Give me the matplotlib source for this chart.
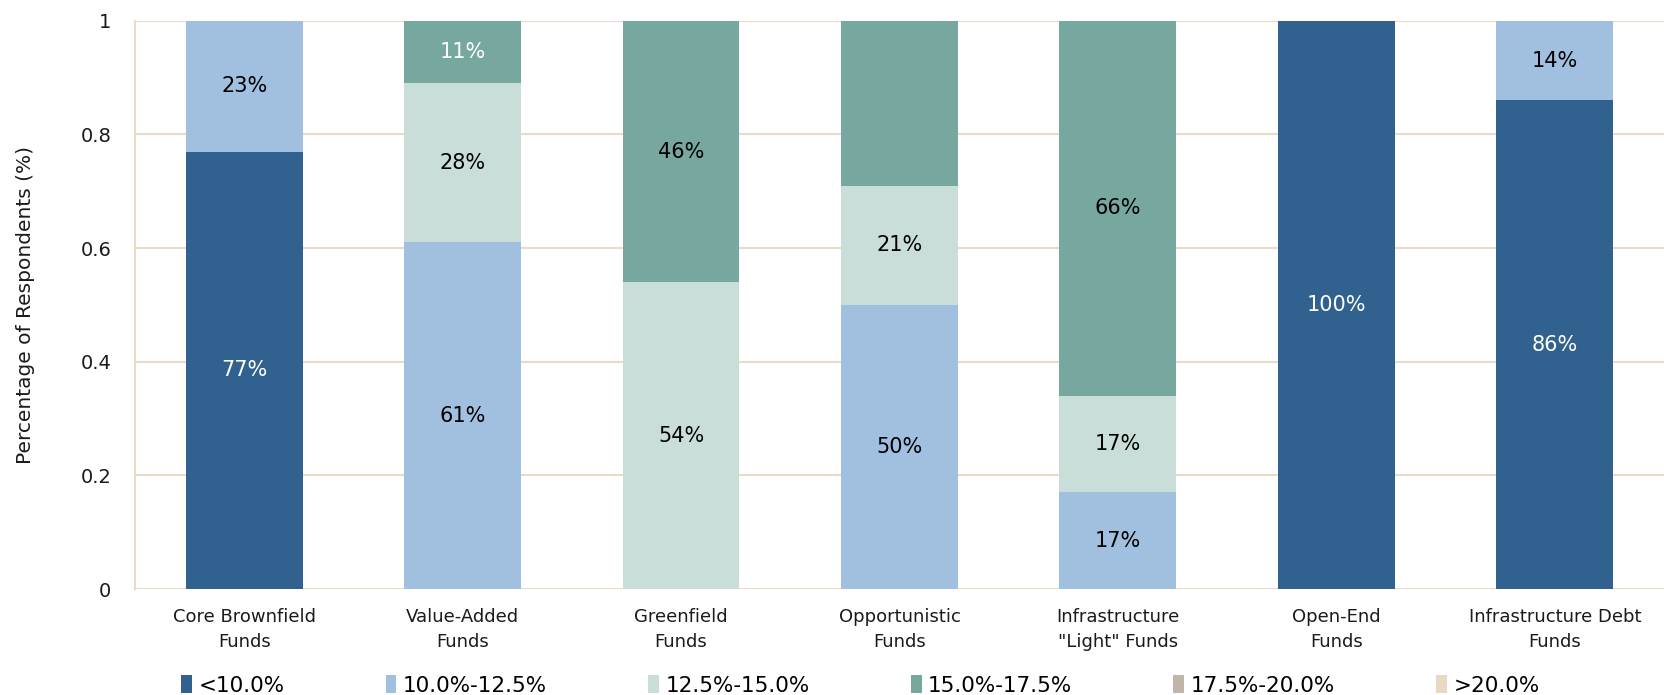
import matplotlib.pyplot as plt
import numpy as np
from matplotlib.ticker import FuncFormatter

# Data
categories = ['Core Brownfield\nFunds', 'Value-Added\nFunds', 'Greenfield\nFunds',
              'Opportunistic\nFunds', 'Infrastructure\n"Light" Funds', 'Open-End\nFunds',
              'Infrastructure Debt\nFunds']
series_names = ['<10.0%', '10.0%-12.5%', '12.5%-15.0%', '15.0%-17.5%', '17.5%-20.0%', '>20.0%']

lt10 = [0.77, 0.00, 0.00, 0.00, 0.00, 1.00, 0.86]
r10_125 = [0.23, 0.61, 0.00, 0.50, 0.17, 0.00, 0.14]
r125_15 = [0.00, 0.28, 0.54, 0.21, 0.17, 0.00, 0.00]
r15_175 = [0.00, 0.11, 0.46, 0.29, 0.66, 0.00, 0.00]
r175_20 = [0.00, 0.00, 0.00, 0.00, 0.00, 0.00, 0.00]
gt20 = [0.00, 0.00, 0.00, 0.00, 0.00, 0.00, 0.00]
series = [lt10, r10_125, r125_15, r15_175, r175_20, gt20]

# which segments carry a label (opportunistic top segment is unlabeled in the source)
show_label = [
    [True] * 7,
    [True] * 7,
    [True] * 7,
    [True, True, True, False, True, True, True],
    [True] * 7,
    [True] * 7,
]

# colors
COLORS = ['#31628F', '#A1BFDE', '#C9DED8', '#77A8A0', '#C0B5A8', '#E9D9C2']
LABEL_COLORS = ['white', 'black', 'black', 'black', 'black', 'black']
GRID_COLOR = '#E8DCC8'

plt.rcParams['font.family'] = ['DejaVu Sans']

fig = plt.figure(figsize=(16.64, 6.95), dpi=100)
ax = fig.add_axes([0.0811, 0.1525, 0.9189, 0.8175])

x = np.arange(len(categories))
bottom = np.zeros(len(categories))
for i, (name, vals) in enumerate(zip(series_names, series)):
    vals = np.array(vals)
    ax.bar(x, vals, width=0.535, bottom=bottom, color=COLORS[i], label=name,
           edgecolor='none', zorder=3)
    for j, v in enumerate(vals):
        if v > 0 and show_label[i][j]:
            c = LABEL_COLORS[i]
            if i == 3 and j == 1:
                c = 'white'
            ax.text(x[j], bottom[j] + v / 2, f'{v * 100:.0f}%', ha='center', va='center',
                    fontsize=15, color=c, zorder=4)
    bottom += vals

ax.set_xlim(-0.5, 6.5)
ax.set_ylim(0, 1)
ax.set_yticks([0, 0.2, 0.4, 0.6, 0.8, 1.0])
ax.yaxis.set_major_formatter(FuncFormatter(lambda v, p: f'{v:g}'))
ax.set_xticks(x)
ax.set_xticklabels(categories, fontsize=13, color='#1a1a1a', linespacing=1.5)
ax.tick_params(axis='y', labelsize=14, colors='#1a1a1a', length=0, pad=17)
ax.tick_params(axis='x', length=0, pad=14)
ax.set_ylabel('Percentage of Respondents (%)', fontsize=14.5, color='#1a1a1a', labelpad=33)

ax.grid(axis='y', color=GRID_COLOR, linewidth=1.5, zorder=0)
for s in ['top', 'right', 'bottom']:
    ax.spines[s].set_visible(False)
ax.spines['left'].set_color(GRID_COLOR)
ax.spines['left'].set_linewidth(1.5)

leg = fig.legend(loc='lower center', bbox_to_anchor=(0.517, -0.029), ncol=6, frameon=False,
                 fontsize=15.5, handlelength=0.5, handleheight=0.9, handletextpad=0.3,
                 columnspacing=4.7)

fig.savefig('out.png', dpi=100)
